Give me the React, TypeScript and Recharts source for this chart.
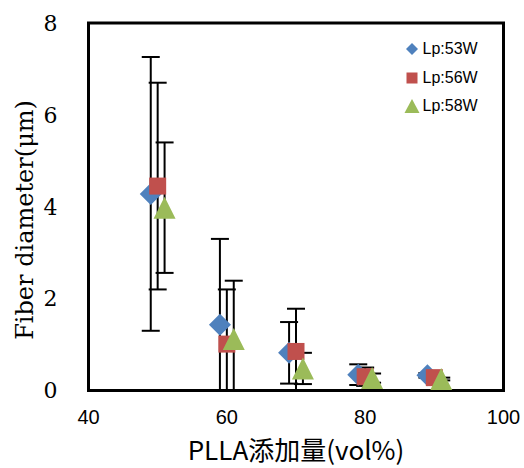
import React from 'react';
import { ScatterChart, Scatter, XAxis, YAxis, ErrorBar, Legend, ReferenceArea, Label } from 'recharts';

const seriesNames = ['Lp:53W', 'Lp:56W', 'Lp:58W'];
const seriesColors = ['#4F81BD', '#C0504D', '#9BBB59'];

const x53 = [49, 59, 69, 79, 89];
const y53 = [4.28, 1.43, 0.82, 0.345, 0.33];
const e53 = [2.98, 1.87, 0.67, 0.225, 0.05];

const x56 = [50, 60, 70, 80, 90];
const y56 = [4.45, 1.01, 0.85, 0.3, 0.28];
const e56 = [2.25, 1.19, 0.93, 0.2, 0.04];

const x58 = [51, 61, 71, 81, 91];
const y58 = [3.98, 1.12, 0.48, 0.27, 0.25];
const e58 = [1.42, 1.27, 0.34, 0.1, 0.03];

const xTicks = [40, 60, 80, 100];
const yTicks = [0, 2, 4, 6, 8];

// lower error is limited at the axis floor (0), as the reference clips bars at the axis
const build = (xs: number[], ys: number[], es: number[]) =>
  xs.map((x, i) => ({ x, y: ys[i], e: [Math.min(es[i], ys[i]), es[i]] }));

const data53 = build(x53, y53, e53);
const data56 = build(x56, y56, e56);
const data58 = build(x58, y58, e58);

const Diamond = (props: any) => {
  const { cx, cy } = props;
  const r = 11;
  return <path d={`M${cx},${cy - r}L${cx + r},${cy}L${cx},${cy + r}L${cx - r},${cy}Z`} fill={seriesColors[0]} />;
};
const Square = (props: any) => {
  const { cx, cy } = props;
  const s = 8.5;
  return <rect x={cx - s} y={cy - s} width={2 * s} height={2 * s} fill={seriesColors[1]} />;
};
const Triangle = (props: any) => {
  const { cx, cy } = props;
  const w = 11;
  const h = 11;
  return <path d={`M${cx},${cy - h}L${cx + w},${cy + h}L${cx - w},${cy + h}Z`} fill={seriesColors[2]} />;
};
const Nothing = () => <g />;

const LegendIcon = ({ idx }: { idx: number }) => {
  const c = 10;
  if (idx === 0) return <path d={`M${c},${c - 6}L${c + 6},${c}L${c},${c + 6}L${c - 6},${c}Z`} fill={seriesColors[0]} />;
  if (idx === 1) return <rect x={c - 5.5} y={c - 5.5} width={11} height={11} fill={seriesColors[1]} />;
  return <path d={`M${c},${c - 7}L${c + 7.5},${c + 7}L${c - 7.5},${c + 7}Z`} fill={seriesColors[2]} />;
};

const renderLegend = () => (
  <div style={{ fontFamily: '"Liberation Sans", Arial, sans-serif', fontSize: 16, color: '#000' }}>
    {seriesNames.map((n, i) => (
      <div key={n} style={{ display: 'flex', alignItems: 'center', height: 28.5 }}>
        <svg width={20} height={20} style={{ display: 'block' }}>
          <LegendIcon idx={i} />
        </svg>
        <span style={{ marginLeft: 1, lineHeight: '16px' }}>{n}</span>
      </div>
    ))}
  </div>
);

export default function App() {
  return (
    <div style={{ position: 'absolute', left: 0, top: 0, background: '#fff' }}>
      <ScatterChart width={524} height={468} margin={{ top: 23, right: 20.5, bottom: 0, left: 0 }}>
        <XAxis
          type="number"
          dataKey="x"
          domain={[40, 100]}
          ticks={xTicks}
          height={77.5}
          axisLine={{ stroke: '#000', strokeWidth: 3 }}
          tickLine={false}
          tickSize={0}
          tickMargin={19}
          tick={{ fill: '#000', fontSize: 20, fontFamily: '"Liberation Sans", Arial, sans-serif' }}
        >
          <Label
            content={() => (
              <text x={296} y={448} textAnchor="middle" dominantBaseline="central" fontSize={26} fontFamily='"Noto Sans CJK JP", sans-serif' fill="#000">
                PLLA添加量(vol%)
              </text>
            )}
          />
        </XAxis>
        <YAxis
          type="number"
          dataKey="y"
          domain={[0, 8]}
          ticks={yTicks}
          width={88.5}
          allowDataOverflow
          axisLine={{ stroke: '#000', strokeWidth: 3 }}
          tickLine={false}
          tickSize={0}
          tickMargin={31}
          tick={{ fill: '#000', fontSize: 22, fontFamily: '"DejaVu Serif", serif' }}
        >
          <Label
            content={() => (
              <text x={25} y={220} transform="rotate(-90 25 220)" textAnchor="middle" dominantBaseline="central" fontSize={24} fontFamily='"DejaVu Serif", serif' fill="#000">
                Fiber diameter(μm)
              </text>
            )}
          />
        </YAxis>
        <ReferenceArea x1={40} x2={100} y1={0} y2={8} fill="none" stroke="#000" strokeWidth={3} ifOverflow="visible" />
        <Scatter data={data53} shape={Nothing} legendType="none" isAnimationActive={false}>
          <ErrorBar dataKey="e" direction="y" width={9} stroke="#000" strokeWidth={2} isAnimationActive={false} />
        </Scatter>
        <Scatter data={data56} shape={Nothing} legendType="none" isAnimationActive={false}>
          <ErrorBar dataKey="e" direction="y" width={9} stroke="#000" strokeWidth={2} isAnimationActive={false} />
        </Scatter>
        <Scatter data={data58} shape={Nothing} legendType="none" isAnimationActive={false}>
          <ErrorBar dataKey="e" direction="y" width={9} stroke="#000" strokeWidth={2} isAnimationActive={false} />
        </Scatter>
        <Scatter name={seriesNames[0]} data={data53} fill={seriesColors[0]} shape={Diamond} isAnimationActive={false} />
        <Scatter name={seriesNames[1]} data={data56} fill={seriesColors[1]} shape={Square} isAnimationActive={false} />
        <Scatter name={seriesNames[2]} data={data58} fill={seriesColors[2]} shape={Triangle} isAnimationActive={false} />
        <Legend
          layout="horizontal"
          verticalAlign="middle"
          align="center"
          content={renderLegend}
          wrapperStyle={{ left: 401.5, top: 35, width: 100 }}
        />
      </ScatterChart>
    </div>
  );
}
